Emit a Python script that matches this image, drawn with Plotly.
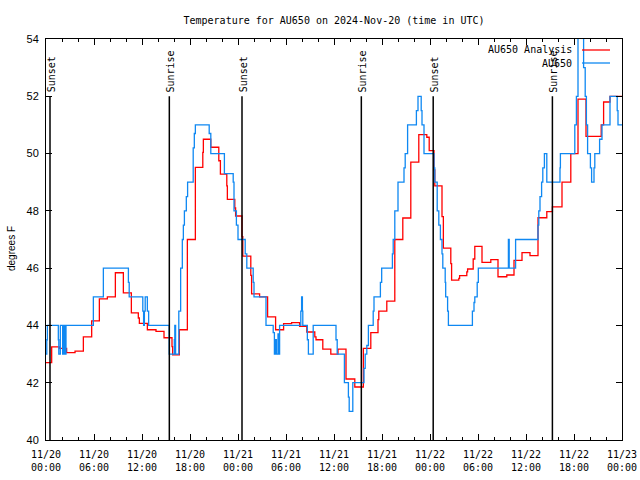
import pandas as pd
import plotly.graph_objects as go

BASE = "2024-11-20 00:00"

# AU650 Analysis (red) : hours after 2024-11-20 00:00 UTC, temperature degF
red_hours = [0, 0.71, 1.67, 2.58, 3.63, 4.67, 5.71, 6.67, 7.67, 8.67,
             9.67, 10.67, 11.54, 11.67, 12.67, 13.75, 14.75, 15.75, 15.83, 16.67,
             17.67, 18.67, 19.6, 19.67, 20.6, 21.6, 21.8, 22.6, 22.67, 23.6,
             23.7, 24.5, 24.6, 25.6, 25.7, 26.7, 27.7, 28.7, 29.7, 30.7,
             31.7, 32.6, 33.6, 33.75, 34.6, 35.6, 36.5, 37.5, 38.6, 39.67,
             40.6, 41.5, 41.6, 42.6, 43.6, 44.6, 45.6, 46.6, 47.6, 47.9,
             48.5, 48.6, 49.5, 49.67, 50.6, 50.7, 51.6, 51.7, 52.6, 52.7,
             53.4, 53.6, 54.5, 55.6, 56.5, 57.6, 58.5, 59.5, 60.5, 61.5,
             62.6, 63.3, 64.5, 65.6, 66.5, 67.5, 69.4, 69.7, 70.5, 72]
red_temp = [42.7, 43.25, 43.2, 43.05, 43.1, 43.6, 44.16, 44.93, 45.0, 45.84,
            45.14, 44.44, 44.26, 44.07, 43.85, 43.79, 43.57, 43.26, 42.97, 43.85,
            47.0, 49.52, 50.04, 50.5, 50.22, 49.75, 49.28, 48.87, 48.4, 48.1,
            47.82, 47.1, 46.42, 45.75, 45.1, 45.0, 44.3, 43.85, 44.06, 44.1,
            43.97, 43.77, 43.6, 43.5, 43.17, 43.0, 43.17, 42.13, 41.85, 43.2,
            43.75, 44.2, 44.5, 44.85, 47.0, 47.75, 49.7, 50.66, 50.57, 50.1,
            49.43, 48.87, 47.8, 46.7, 46.16, 45.58, 45.64, 45.74, 45.87, 45.97,
            46.32, 46.76, 46.2, 46.3, 45.7, 45.76, 46.27, 46.54, 46.44, 47.76,
            47.97, 48.14, 49.0, 50.0, 51.9, 50.6, 51.0, 51.8, 52.0, 52.0]

# AU650 observations (blue)
blue_hours = [0, 0.1, 0.17, 1.54, 1.6, 1.79, 2.08, 2.15, 2.2, 2.25,
              2.35, 2.4, 2.5, 5.92, 7.17, 10.3, 10.4, 12.1, 12.2, 12.3,
              12.4, 12.67, 12.83, 15.4, 16.04, 16.1, 16.2, 16.6, 16.83, 17.04,
              17.17, 17.3, 17.54, 17.7, 18.4, 18.54, 18.67, 20.4, 20.6, 22.3,
              23.4, 23.5, 23.8, 24.0, 24.9, 25.1, 25.9, 26.0, 27.5, 28.4,
              28.55, 28.7, 28.8, 29.0, 29.05, 29.2, 31.85, 31.95, 32.05, 32.1,
              32.67, 32.8, 33.4, 36.25, 36.4, 37.3, 37.8, 37.9, 38.35, 39.75,
              39.9, 40.1, 40.3, 40.9, 41.0, 41.8, 41.96, 43.3, 43.4, 43.6,
              44.0, 44.75, 44.9, 45.2, 46.3, 46.5, 46.9, 47.0, 47.25, 48.5,
              48.6, 48.9, 49.1, 49.3, 49.5, 49.6, 49.9, 49.96, 50.2, 50.3,
              53.3, 53.5, 53.6, 53.9, 54.04, 57.8, 57.9, 58.7, 61.5, 61.6,
              61.75, 61.95, 62.1, 62.3, 62.6, 64.25, 64.3, 66.1, 66.3, 66.5,
              67.2, 67.4, 67.55, 67.7, 68.05, 68.2, 68.5, 68.6, 69.2, 69.5,
              70.5, 71.4, 71.5, 72]
blue_temp = [43.0, 43.5, 44.0, 43.5, 43.0, 44.0, 43.0, 44.0, 43.5, 43.0,
             44.0, 43.0, 44.0, 45.0, 46.0, 45.5, 45.0, 44.5, 44.0, 44.5,
             45.0, 44.5, 44.0, 43.0, 43.5, 44.0, 43.0, 44.5, 46.0, 47.0,
             47.5, 48.0, 48.5, 49.0, 50.2, 50.7, 51.0, 50.7, 50.0, 49.3,
             49.0, 48.0, 47.5, 47.0, 46.5, 46.0, 45.5, 45.0, 44.0, 43.75,
             43.0, 43.5, 43.0, 43.7, 43.0, 44.0, 44.5, 45.0, 44.5, 44.0,
             43.5, 43.0, 44.0, 43.5, 43.0, 42.0, 41.5, 41.0, 42.0, 42.5,
             43.0, 43.3, 44.0, 44.5, 45.0, 45.5, 46.0, 46.5, 47.0, 48.0,
             49.0, 49.5, 50.0, 51.0, 51.5, 52.0, 51.5, 51.0, 50.0, 49.5,
             49.0, 48.0, 47.5, 47.0, 46.5, 46.0, 45.5, 45.0, 44.5, 44.0,
             44.5, 44.8, 45.0, 45.5, 46.0, 47.0, 46.0, 47.0, 47.5, 48.0,
             48.5, 49.0, 49.5, 50.0, 49.0, 49.5, 50.0, 51.0, 52.0, 55.0,
             53.0, 52.0, 51.0, 50.0, 49.5, 49.0, 49.5, 50.0, 50.5, 51.0,
             52.0, 51.5, 51.0, 51.0]

sun_times = ["2024-11-20 00:30", "2024-11-20 15:25", "2024-11-21 00:30",
             "2024-11-21 15:25", "2024-11-22 00:24", "2024-11-22 15:18"]
sun_labels = ["Sunset", "Sunrise", "Sunset", "Sunrise", "Sunset", "Sunrise"]
sun_line_top = 52

x_start, x_end = "2024-11-20 00:00", "2024-11-23 00:00"
y_min, y_max, y_step = 40, 54, 2


def to_time(hours):
    base = pd.Timestamp(BASE)
    return [base + pd.Timedelta(hours=h) for h in hours]


MONO = "DejaVu Sans Mono"
SANS = "Liberation Sans"

fig = go.Figure()
fig.add_trace(go.Scatter(x=to_time(red_hours), y=red_temp, mode="lines",
                         name="AU650 Analysis",
                         line=dict(color="#ff0000", width=1.3, shape="hv")))
fig.add_trace(go.Scatter(x=to_time(blue_hours), y=blue_temp, mode="lines",
                         name="AU650",
                         line=dict(color="#0f88f2", width=1.3, shape="hv")))

for t, lab in zip(sun_times, sun_labels):
    fig.add_shape(type="line", xref="x", yref="y", x0=t, x1=t,
                  y0=y_min, y1=sun_line_top,
                  line=dict(color="black", width=1.5))
    fig.add_annotation(x=t, y=sun_line_top, xref="x", yref="y", text=lab,
                       textangle=-90, showarrow=False, xanchor="center",
                       yanchor="bottom", xshift=1, yshift=2,
                       font=dict(family=MONO, size=10, color="black"))

# legend (text on the left, sample line on the right, like the source)
legend_items = [("AU650 Analysis", "#ff0000"), ("AU650", "#0f88f2")]
for i, (name, col) in enumerate(legend_items):
    ypix = 50 + i * 13
    yp = 1 - (ypix - 39) / 401
    fig.add_annotation(x=(574 - 46) / 576, y=yp, xref="paper", yref="paper",
                       text=name, showarrow=False, xanchor="right",
                       yanchor="middle",
                       font=dict(family=MONO, size=10, color="black"))
    fig.add_shape(type="line", xref="paper", yref="paper",
                  x0=(582 - 46) / 576, x1=(610 - 46) / 576, y0=yp, y1=yp,
                  line=dict(color=col, width=1.3))

# y axis title
fig.add_annotation(x=-35 / 576, y=(440 - 249) / 401, xref="paper",
                   yref="paper", text="degrees F", textangle=-90,
                   showarrow=False, xanchor="center", yanchor="middle",
                   font=dict(family=SANS, size=10, color="black"))

H = 3600 * 1000
fig.update_layout(
    width=640, height=480,
    margin=dict(l=46, r=18, t=39, b=40),
    paper_bgcolor="white", plot_bgcolor="white",
    showlegend=False,
    title=dict(text="Temperature for AU650 on 2024-Nov-20 (time in UTC)",
               x=0.5, xref="paper", xanchor="center",
               y=1 - 20 / 480, yanchor="middle",
               font=dict(family=MONO, size=10, color="black")),
    xaxis=dict(type="date", range=[x_start, x_end], tick0=x_start,
               dtick=6 * H, tickformat="%m/%d<br>%H:%M",
               ticks="inside", ticklen=6, tickcolor="black", tickwidth=1,
               showline=True, linecolor="black", linewidth=1,
               mirror="allticks", showgrid=False, zeroline=False,
               ticklabelstandoff=5, automargin=False,
               tickfont=dict(family=MONO, size=10, color="black"),
               minor=dict(dtick=2 * H, tick0=x_start, ticks="inside",
                          ticklen=3, tickcolor="black", showgrid=False)),
    yaxis=dict(range=[y_min, y_max], dtick=y_step, tick0=y_min,
               ticks="inside", ticklen=6, tickcolor="black",
               showline=True, linecolor="black", linewidth=1,
               mirror="allticks", showgrid=False, zeroline=False,
               ticklabelstandoff=4, automargin=False,
               tickfont=dict(family=SANS, size=11, color="black")),
)

fig.write_html("out.html",
               config={"displayModeBar": False},
               post_script="document.body.style.margin='0';"
                           "document.body.style.overflow='hidden';")
